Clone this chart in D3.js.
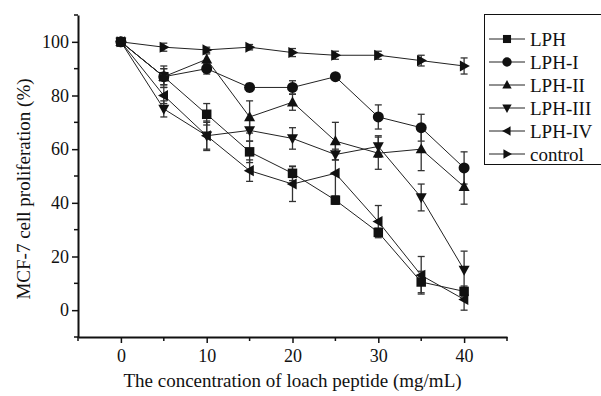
<!DOCTYPE html>
<html><head><meta charset="utf-8">
<script src="https://cdn.jsdelivr.net/npm/d3@7"></script>
<style>body{margin:0;background:#fff}svg{display:block}</style>
</head><body>
<script>
const concentrations = [0, 5, 10, 15, 20, 25, 30, 35, 40];
const seriesNames = ["LPH", "LPH-I", "LPH-II", "LPH-III", "LPH-IV", "control"];
const markerTypes = ["square", "circle", "up", "down", "left", "right"];
const lphValues    = [100, 87, 73, 59, 51, 41, 29, 10.5, 7];
const lph1Values   = [100, 87, 90, 83, 83, 87, 72, 68, 53];
const lph2Values   = [100, 87, 93.5, 72, 77.5, 63, 58.5, 60, 46];
const lph3Values   = [100, 75, 65, 67, 64, 58, 61, 42, 15];
const lph4Values   = [100, 80, 65, 52, 47, 51, 33, 13, 4];
const controlValues= [100, 98, 97, 98, 96, 95, 95, 93, 91];
const lphErr    = [0.5, 4, 4, 4, 2.7, 1.5, 1.5, 4, 2];
const lph1Err   = [0.5, 3, 2, 1.5, 2.5, 1, 4.5, 5, 6];
const lph2Err   = [0.5, 3, 2, 6, 3, 7, 6, 8, 6.5];
const lph3Err   = [0.5, 3, 5, 4, 4, 2, 4, 5, 7];
const lph4Err   = [0.5, 3, 5.5, 4, 6.5, 11, 6, 7, 4];
const controlErr= [0.5, 1.5, 1, 1, 1.5, 1.5, 1.5, 2, 3];
const xTickValues = [0, 10, 20, 30, 40];
const xMinorTicks = [-5, 5, 15, 25, 35, 45];
const yTickValues = [0, 20, 40, 60, 80, 100];
const yMinorTicks = [-10, 10, 30, 50, 70, 90, 110];
const xTitle = "The concentration of loach peptide (mg/mL)";
const yTitle = "MCF-7 cell proliferation (%)";

const valuesList = [lphValues, lph1Values, lph2Values, lph3Values, lph4Values, controlValues];
const errList = [lphErr, lph1Err, lph2Err, lph3Err, lph4Err, controlErr];

const W = 601, H = 396;
const mLeft = 78, mRight = 507, mTop = 15, mBottom = 337;
const font = "'Liberation Serif','Times New Roman',serif";

const svg = d3.select("body").append("svg").attr("width", W).attr("height", H);
const x = d3.scaleLinear().domain([-5, 45]).range([mLeft, mRight]);
const y = d3.scaleLinear().domain([-10, 110]).range([mBottom, mTop]);

// axes
const xAxis = svg.append("g").attr("transform", `translate(0,${mBottom})`)
  .call(d3.axisBottom(x).tickValues(xTickValues).tickSize(6).tickPadding(6).tickSizeOuter(0));
const yAxis = svg.append("g").attr("transform", `translate(${mLeft},0)`)
  .call(d3.axisLeft(y).tickValues(yTickValues).tickSize(6).tickPadding(3).tickSizeOuter(0));
[xAxis, yAxis].forEach(g => {
  g.select(".domain").attr("stroke", "#111").attr("stroke-width", 2);
  g.selectAll(".tick line").attr("stroke", "#111").attr("stroke-width", 1.5);
  g.selectAll("text").attr("font-family", font).attr("font-size", 18).attr("fill", "#111");
});
xAxis.selectAll("line.minor").data(xMinorTicks).enter().append("line")
  .attr("class", "minor").attr("x1", d => x(d)).attr("x2", d => x(d))
  .attr("y1", 0).attr("y2", 4).attr("stroke", "#111").attr("stroke-width", 1.5);
yAxis.selectAll("line.minor").data(yMinorTicks).enter().append("line")
  .attr("class", "minor").attr("y1", d => y(d)).attr("y2", d => y(d))
  .attr("x1", 0).attr("x2", -4).attr("stroke", "#111").attr("stroke-width", 1.5);

// titles
svg.append("text").attr("x", (mLeft + mRight) / 2).attr("y", 387)
  .attr("text-anchor", "middle").attr("font-family", font).attr("font-size", 19)
  .attr("fill", "#111").text(xTitle);
svg.append("text").attr("transform", `translate(30,189) rotate(-90)`)
  .attr("text-anchor", "middle").attr("font-family", font).attr("font-size", 19)
  .attr("fill", "#111").text(yTitle);

function markerPath(type, s) {
  const h = s / 2;
  switch (type) {
    case "square": return `M${-h},${-h}h${s}v${s}h${-s}Z`;
    case "circle": return d3.symbol().type(d3.symbolCircle).size(Math.PI * h * h)();
    case "up": return `M0,${-h * 1.1}L${h * 1.05},${h * 0.8}L${-h * 1.05},${h * 0.8}Z`;
    case "down": return `M0,${h * 1.1}L${h * 1.05},${-h * 0.8}L${-h * 1.05},${-h * 0.8}Z`;
    case "left": return `M${-h * 1.1},0L${h * 0.8},${-h * 1.05}L${h * 0.8},${h * 1.05}Z`;
    case "right": return `M${h * 1.1},0L${-h * 0.8},${-h * 1.05}L${-h * 0.8},${h * 1.05}Z`;
  }
}
const markerSize = {square: 9.5, circle: 11, up: 10.5, down: 10.5, left: 10.5, right: 10.5};

const line = d3.line().x(d => x(d.c)).y(d => y(d.v));

// error bars first
valuesList.forEach((vals, si) => {
  const g = svg.append("g");
  concentrations.forEach((c, i) => {
    const e = errList[si][i];
    if (e < 1) return;
    const cx = x(c), y1 = y(vals[i] + e), y2 = y(vals[i] - e);
    g.append("line").attr("x1", cx).attr("x2", cx).attr("y1", y1).attr("y2", y2)
      .attr("stroke", "#333").attr("stroke-width", 1.3);
    [y1, y2].forEach(yy => g.append("line").attr("x1", cx - 3.5).attr("x2", cx + 3.5)
      .attr("y1", yy).attr("y2", yy).attr("stroke", "#333").attr("stroke-width", 1.3));
  });
});

// lines and markers
valuesList.forEach((vals, si) => {
  const pts = concentrations.map((c, i) => ({c, v: vals[i]}));
  svg.append("path").datum(pts).attr("d", line).attr("fill", "none")
    .attr("stroke", "#222").attr("stroke-width", 1);
  svg.append("g").selectAll("path").data(pts).enter().append("path")
    .attr("transform", d => `translate(${x(d.c)},${y(d.v)})`)
    .attr("d", markerPath(markerTypes[si], markerSize[markerTypes[si]]))
    .attr("fill", "#111");
});

// legend
const lg = svg.append("g");
lg.append("rect").attr("x", 484.5).attr("y", 14.5).attr("width", 130).attr("height", 150)
  .attr("fill", "#fff").attr("stroke", "#111").attr("stroke-width", 1);
seriesNames.forEach((name, i) => {
  const yy = 39 + i * 23;
  lg.append("line").attr("x1", 489).attr("x2", 525).attr("y1", yy).attr("y2", yy)
    .attr("stroke", "#222").attr("stroke-width", 1);
  lg.append("path").attr("transform", `translate(507,${yy})`)
    .attr("d", markerPath(markerTypes[i], markerSize[markerTypes[i]] * 0.85)).attr("fill", "#111");
  lg.append("text").attr("x", 530).attr("y", yy + 6.5).attr("font-family", font)
    .attr("font-size", 19).attr("fill", "#111").text(name);
});
</script>
</body></html>
